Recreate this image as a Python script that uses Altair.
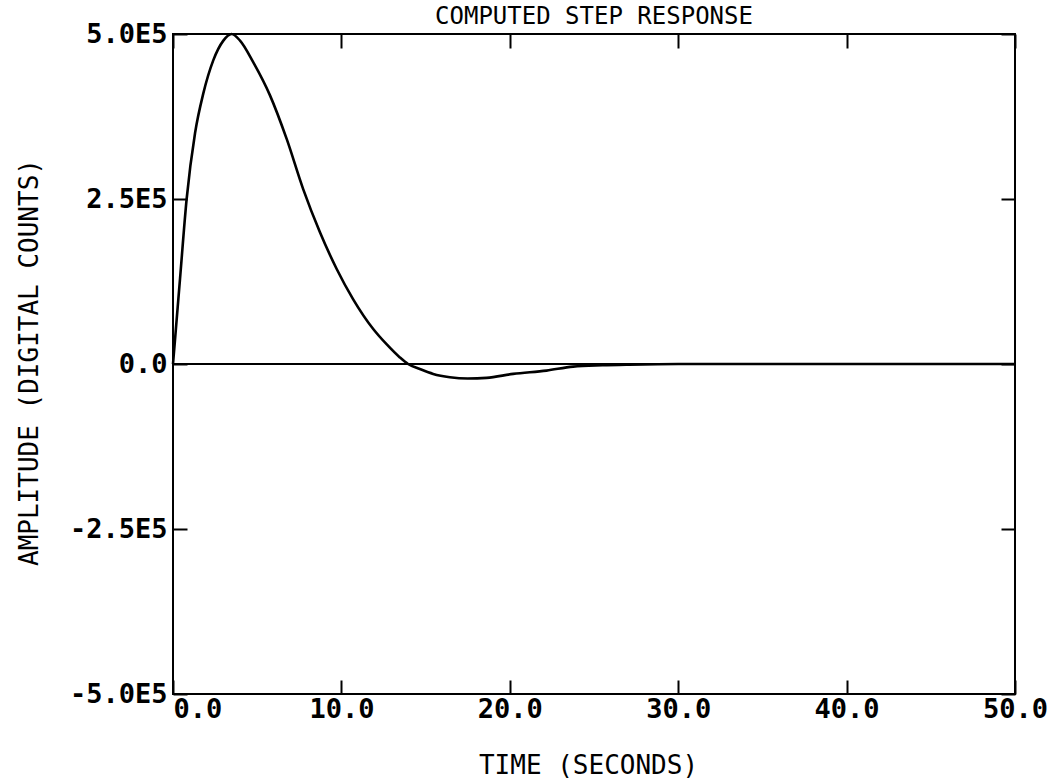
import altair as alt
import pandas as pd

# ---- data ----
time_s = [0.0, 0.12, 0.42, 0.81, 1.31, 1.80, 2.39, 2.99, 3.48, 3.98, 4.77, 5.76,
          6.75, 7.73, 8.72, 9.72, 10.70, 11.89, 12.68, 13.47, 13.96, 14.66,
          15.45, 16.44, 17.5, 18.62, 20.2, 22.18, 23.76, 25.5, 27.1, 30.0,
          40.0, 50.0]
amplitude = [0, 37000, 130000, 250000, 350000, 410000, 460000, 490000, 500000,
             490000, 457000, 407000, 341000, 265000, 200000, 144000, 98000,
             53000, 30000, 10000, 0, -7600, -15000, -20000, -22000, -21000,
             -15000, -10000, -4000, -2000, -1000, 0, 0, 0]
x_ticks = [0, 10, 20, 30, 40, 50]
y_ticks = [-500000, -250000, 0, 250000, 500000]

title_text = "COMPUTED STEP RESPONSE"
x_title = "TIME (SECONDS)"
y_title = "AMPLITUDE (DIGITAL COUNTS)"

FONT = "DejaVu Sans Mono"

df = pd.DataFrame({"t": time_s, "a": amplitude})
zero_df = pd.DataFrame({"t": [x_ticks[0]], "t2": [x_ticks[-1]], "a": [0]})
title_df = pd.DataFrame({"label": [title_text]})

xscale = alt.Scale(domain=[x_ticks[0], x_ticks[-1]], nice=False, zero=False)
yscale = alt.Scale(domain=[y_ticks[0], y_ticks[-1]], nice=False)

ylabel_expr = ("datum.value == 0 ? '0.0' : (datum.value < 0 ? '-' : '') + "
               "format(abs(datum.value) / 100000, '.1f') + 'E5'")

tick_style = dict(offset=-14, tickSize=14, tickColor="black", tickWidth=2,
                  domain=False, grid=False)

line = alt.Chart(df).mark_line(color="black", strokeWidth=2.6, interpolate="monotone").encode(
    x=alt.X("t:Q", scale=xscale,
            axis=alt.Axis(orient="bottom", values=x_ticks, format=".1f",
                          labelPadding=2, labelFont=FONT, labelFontSize=27,
                          labelFontWeight="bold", labelColor="black",
                          labelAlign={"condition": {"test": "datum.value == 0", "value": "left"},
                                      "value": "center"},
                          title=x_title, titleFont=FONT, titleFontSize=26,
                          titleFontWeight="normal", titleColor="black",
                          titleX=415, titleY=85,
                          titleBaseline="middle", titleAlign="center", **tick_style)),
    y=alt.Y("a:Q", scale=yscale,
            axis=alt.Axis(orient="left", values=y_ticks, labelExpr=ylabel_expr,
                          labelPadding=6, labelFont=FONT, labelFontSize=27,
                          labelFontWeight="bold", labelBaseline="middle",
                          labelColor="black",
                          title=y_title, titleFont=FONT, titleFontSize=26,
                          titleFontWeight="normal", titleColor="black",
                          titleX=-158, titleY=328,
                          titleAngle=-90, titleBaseline="middle", titleAlign="center",
                          **tick_style)),
)

zero = alt.Chart(zero_df).mark_rule(color="black", strokeWidth=2).encode(
    x=alt.X("t:Q", scale=xscale,
            axis=alt.Axis(orient="top", values=x_ticks, labels=False, title=None,
                          **tick_style)),
    x2="t2:Q",
    y=alt.Y("a:Q", scale=yscale,
            axis=alt.Axis(orient="right", values=y_ticks, labels=False, title=None,
                          **tick_style)),
)

title = alt.Chart(title_df).mark_text(
    font=FONT, fontSize=24, fontWeight="normal", color="black",
    align="center", baseline="middle"
).encode(text="label:N", x=alt.value(421), y=alt.value(-17))

chart = alt.layer(line, zero, title).resolve_axis(
    x="independent", y="independent"
).properties(
    width=842, height=660,
    padding={"left": 173, "top": 34, "right": 42, "bottom": 90},
    autosize=alt.AutoSizeParams(type="none"),
    background="white",
).configure_view(stroke="black", strokeWidth=2)

chart.save("out.html", embed_options={"renderer": "svg", "actions": False})
